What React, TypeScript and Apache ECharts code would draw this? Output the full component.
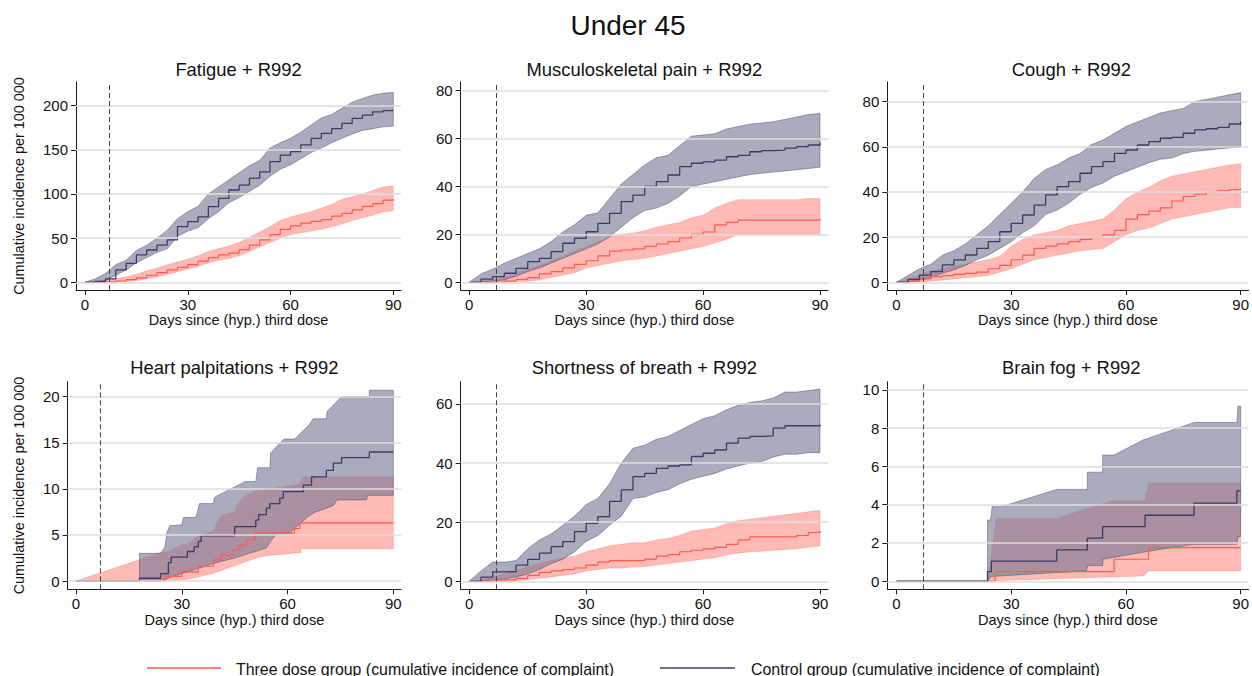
import React, { useEffect, useRef } from "react";
import * as echarts from "echarts";

const FONT = '"Liberation Sans", Arial, Helvetica, sans-serif';

// ---------- data ----------
const DAYS = [0, 3, 6, 9, 12, 15, 18, 21, 24, 27, 30, 33, 36, 39, 42, 45, 48, 51, 54, 57, 60, 63, 66, 69, 72, 75, 78, 81, 84, 87, 90];
const X_TICKS = [0, 30, 60, 90];

// Fatigue
const fatigueControlLine = [0, 1, 4, 14, 21.5, 31, 36.6, 42, 48, 63, 68.7, 74, 85.7, 95, 104.5, 110, 118, 125, 136.6, 144, 148, 155.5, 163, 168.7, 174, 180, 185.7, 189.4, 193, 194.3, 194.3];
const fatigueControlUpper = [0, 4, 10, 20, 25, 36, 42, 50, 59, 72, 80, 86, 100, 108, 116, 124, 132, 138, 152, 158, 163, 170, 178, 186, 190, 197, 204, 208, 212, 214, 215];
const fatigueControlLower = [0, 0, 2, 8, 14, 22, 28, 34, 38, 52, 58, 62, 72, 80, 90, 96, 103, 110, 120, 128, 133, 140, 147, 152, 158, 163, 168, 172, 174, 176, 177];
const fatigueThreeLine = [0, 0, 0.5, 1.5, 3, 5, 8, 11, 14, 17, 20, 24, 28, 31, 33, 37, 42, 48, 54, 60, 64, 67, 69, 71, 75, 78, 82, 86, 89, 93, 94];
const fatigueThreeUpper = [0, 1, 2, 4, 6, 9, 13, 16, 20, 23, 26, 30, 35, 38, 41, 45, 51, 57, 63, 70, 74, 77, 80, 84, 88, 94, 97, 100, 104, 108, 109];
const fatigueThreeLower = [0, 0, 0, 0.5, 1, 2, 4, 6, 9, 12, 15, 18, 22, 25, 27, 30, 35, 40, 45, 50, 54, 56, 58, 60, 63, 66, 70, 73, 76, 80, 81];

// Musculoskeletal pain
const muscControlLine = [0, 1.3, 2.4, 3.8, 5.8, 8.6, 10, 12.8, 16.3, 18.4, 21.1, 24.6, 28.8, 33.7, 36.4, 40, 42, 44.8, 48.3, 49.7, 50.3, 51, 52.4, 53, 54.5, 55, 55.2, 56, 56.6, 57.3, 58.3];
const muscControlUpper = [0, 3.5, 5.5, 8, 10, 12, 14, 17, 21, 24, 28, 29, 35, 41, 45, 49, 52, 53, 57, 61, 61.5, 62, 64, 65, 66, 66.5, 67, 68, 69, 70, 70.5];
const muscControlLower = [0, 0, 0.5, 1, 2.5, 4.5, 6, 8, 10, 12, 14, 16, 19, 23, 27, 30, 31, 33, 36, 40, 41, 42, 43, 44, 45, 45.5, 46, 46.5, 47, 47.5, 48];
const muscThreeLine = [0, 0, 0, 0.5, 1.2, 2, 3.5, 4.5, 6, 7.5, 9, 11, 13, 13.5, 14, 15, 16, 17, 18.5, 20, 21, 24, 25, 26, 26, 26, 26, 26, 26, 26, 26.5];
const muscThreeUpper = [0, 0.5, 1, 2, 4, 5.5, 7, 9, 11, 13, 15, 17, 19, 20, 20.5, 21.5, 23, 24, 25, 27, 28, 31, 33, 34.5, 34.5, 34.5, 34.5, 34.5, 34.5, 35, 35];
const muscThreeLower = [0, 0, 0, 0, 0.2, 0.5, 1, 2, 3, 4, 6, 7, 8, 9, 9.5, 10, 11, 12, 13, 14, 15, 16.5, 18, 20, 20, 20, 20, 20, 20, 20, 20];

// Cough
const coughControlLine = [0, 1.3, 3.2, 4.7, 7.7, 9.9, 12.1, 15, 18, 22.4, 26.1, 29.8, 34.2, 38.7, 42.4, 44.6, 48.3, 51.2, 53.4, 57.1, 58.6, 60.8, 62.3, 63.8, 64.2, 66, 67.5, 68, 68.6, 70.1, 71.1];
const coughControlUpper = [0, 3, 6, 8, 12, 14, 17, 21, 25, 30, 35, 40, 46, 50, 52, 55, 57, 61, 63, 66, 69, 71, 73, 75, 76, 77, 80, 81, 82, 83, 84];
const coughControlLower = [0, 0, 1, 2, 4, 5.5, 7.5, 10, 12, 15, 18, 22, 25, 30, 32, 35, 39, 42, 44, 47, 49, 51, 53, 54.5, 55, 57, 58, 58.5, 59, 59.5, 60];
const coughThreeLine = [0, 0.5, 1.5, 2.5, 3, 3.5, 4, 4.5, 6, 7.5, 10, 12, 15, 16, 17, 18, 19, 20, 21, 23, 28, 30, 31.5, 33, 36, 38, 39, 40, 40.5, 41, 41.5];
const coughThreeUpper = [0, 1.5, 3, 5, 6, 7, 8, 9, 10, 11.5, 16, 19, 21, 22, 23, 25, 26, 27, 28, 32, 37, 40, 42, 45, 47, 48, 49, 50, 51, 52, 52.5];
const coughThreeLower = [0, 0, 0.2, 0.5, 1, 1.5, 2, 2.5, 3, 4.5, 6, 8, 10, 11, 12, 13, 14, 14.5, 15, 18, 21, 23, 24, 26, 28, 29, 30, 31, 32, 33, 33];

// Shortness of breath
const sobControlLine = [0, 1.4, 3.2, 3.3, 5.5, 7.4, 9.5, 11.7, 13.4, 16.8, 19.6, 21.9, 27, 30.9, 35.4, 36.5, 38.2, 39, 39.4, 42.2, 43.3, 44.4, 46.7, 48.4, 49, 49.2, 51.8, 52.6, 52.6, 52.6, 53];
const sobControlUpper = [0, 3.5, 6.5, 6.5, 7, 11, 14, 16, 19, 22, 26, 28, 33, 40, 45, 46, 48, 49, 51, 53, 55, 56, 58, 59.5, 60.5, 61, 62, 64, 64, 64.5, 65];
const sobControlLower = [0, 0, 0.5, 0.8, 1.5, 2.5, 4, 6, 7.5, 10, 13.5, 15.5, 19, 22, 28, 28.5, 30, 31, 33, 34.5, 35.5, 36.5, 38, 39, 40, 40.5, 42, 43, 43, 43.5, 43.5];
const sobThreeLine = [0, 0, 0.2, 0.5, 1, 2, 3, 3.5, 4, 4.5, 5.5, 6.5, 7, 7, 7, 7.5, 8.5, 9, 10, 10.5, 11, 11.5, 12.5, 14, 15, 15, 15, 15, 15.5, 16.5, 17];
const sobThreeUpper = [0, 0.5, 1.5, 2.5, 3.5, 5, 6, 7, 8, 8.5, 10, 11, 12, 12.5, 13, 13, 14, 14.5, 15.5, 17, 17.5, 18, 19.5, 20.5, 21, 21.5, 22, 22.5, 23, 23.5, 24];
const sobThreeLower = [0, 0, 0, 0, 0.2, 0.5, 1, 1.5, 2, 2.5, 3.5, 4, 4.5, 4.5, 4.8, 5, 5.5, 6, 6.5, 7, 7.5, 8, 9, 9.5, 10, 10.2, 10.5, 10.8, 11, 11.5, 12];

// Heart palpitations: [day, value]
const heartControlLine = [[0, 0], [18, 0.3], [24, 0.8], [26.2, 2.0], [27, 2.6], [31.6, 3.2], [33.5, 3.7], [34.7, 4.3], [35.5, 4.9], [45, 5.9], [51, 6.6], [51.8, 7.2], [54, 7.9], [55, 8.4], [57.8, 9.0], [58.8, 9.7], [64.5, 10.4], [66.8, 11.3], [71, 12.0], [73, 12.8], [75.3, 13.4], [83.2, 14.0], [90, 14.0]];
const heartControlUpper = [[18, 0], [18, 3.0], [24, 3.0], [25.2, 3.7], [25.8, 5.3], [26.6, 6.0], [30, 6.1], [30.5, 6.9], [34, 6.9], [34.5, 7.6], [35, 8.4], [39, 8.4], [39.3, 9.1], [48, 10.8], [51, 10.8], [51.5, 12.3], [55, 12.3], [55.2, 13.9], [57.4, 14.8], [59, 15.4], [62, 15.4], [66, 16.9], [67.3, 17.6], [71, 17.6], [71.2, 18.4], [73.3, 19.2], [75.3, 20.0], [83.2, 20.0], [83.2, 20.7], [90, 20.7]];
const heartControlLower = [[18, 0], [25, 0], [26, 0.3], [30, 0.8], [35, 1.4], [39, 1.9], [45, 2.5], [49, 3.0], [51, 3.2], [54, 3.6], [55, 4.2], [57, 5.2], [60.7, 5.2], [62, 5.7], [65.8, 7.0], [68, 7.5], [71, 7.9], [73, 8.2], [74, 8.8], [82.4, 8.8], [82.7, 9.3], [90, 9.3]];
const heartThreeLine = [[0, 0], [24.5, 0.2], [25.5, 0.5], [30, 1.0], [34.7, 1.6], [39, 2.3], [41, 2.8], [44.6, 3.4], [46.5, 3.9], [48.4, 4.5], [50.8, 5.2], [62, 5.7], [63.5, 6.3], [90, 6.3]];
const heartThreeUpper = [[0, 0], [18, 2.3], [24, 3.1], [26.5, 3.2], [30, 3.9], [32, 4.1], [34.2, 4.8], [39, 5.4], [40, 6.3], [41.3, 7.2], [45, 7.4], [45.5, 8.1], [47.5, 9.1], [50.3, 9.7], [63.5, 10.5], [64.5, 11.3], [90, 11.3]];
const heartThreeLower = [[0, 0], [25.7, 0], [32, 0.2], [39, 0.85], [41.5, 1.2], [47.5, 2.0], [51, 2.5], [53, 2.7], [63.8, 3.1], [63.8, 3.5], [90, 3.5]];

// Brain fog: [day, value]
const fogControlLine = [[0, 0], [23.8, 0.5], [24.8, 1.05], [41.9, 1.64], [49.9, 2.25], [53.9, 2.86], [65, 3.45], [77.8, 4.08], [89, 4.72], [90, 4.72]];
const fogControlUpper = [[23.8, 0], [23.8, 3.2], [24.6, 3.2], [25, 3.9], [27.4, 3.9], [41.9, 4.8], [49.9, 4.8], [49.9, 5.7], [53.9, 5.7], [53.9, 6.6], [56.9, 6.6], [64.6, 7.4], [65.5, 7.45], [77.8, 8.3], [89, 8.3], [89.3, 9.15], [90, 9.15]];
const fogControlLower = [[23.8, 0], [24.8, 0.25], [49.7, 0.55], [50, 0.82], [53.9, 0.82], [54, 1.15], [65.4, 1.55], [77.8, 1.93], [89, 1.93], [89.3, 2.33], [90, 2.33]];
const fogThreeLine = [[0, 0], [25.8, 0.5], [56.9, 1.15], [65.9, 1.76], [90, 1.76]];
const fogThreeUpper = [[23.8, 0], [26.1, 3.28], [41.9, 3.28], [56.3, 4.2], [65, 4.2], [65.9, 5.12], [90, 5.12]];
const fogThreeLower = [[23.8, 0], [26, 0.03], [64.6, 0.28], [65.9, 0.54], [90, 0.54]];

const TITLES = ["Fatigue + R992", "Musculoskeletal pain + R992", "Cough + R992", "Heart palpitations + R992", "Shortness of breath + R992", "Brain fog + R992"];
const Y_TICKS = [[0, 50, 100, 150, 200], [0, 20, 40, 60, 80], [0, 20, 40, 60, 80], [0, 5, 10, 15, 20], [0, 20, 40, 60], [0, 2, 4, 6, 8, 10]];
const X_NAME = "Days since (hyp.) third dose";
const Y_NAME = "Cumulative incidence per 100 000";
const THREE_NAME = "Three dose group (cumulative incidence of complaint)";
const CONTROL_NAME = "Control group (cumulative incidence of complaint)";
const MAIN_TITLE = "Under 45";

// ---------- helpers ----------
const pairs = (xs: number[], ys: number[]) => xs.map((x, i) => [x, ys[i]]);
const dense = (cl: number[], cu: number[], clo: number[], tl: number[], tu: number[], tlo: number[]) => ({
  control: { line: pairs(DAYS, cl), upper: pairs(DAYS, cu), lower: pairs(DAYS, clo) },
  three: { line: pairs(DAYS, tl), upper: pairs(DAYS, tu), lower: pairs(DAYS, tlo) },
});

const PANEL_DATA = [
  dense(fatigueControlLine, fatigueControlUpper, fatigueControlLower, fatigueThreeLine, fatigueThreeUpper, fatigueThreeLower),
  dense(muscControlLine, muscControlUpper, muscControlLower, muscThreeLine, muscThreeUpper, muscThreeLower),
  dense(coughControlLine, coughControlUpper, coughControlLower, coughThreeLine, coughThreeUpper, coughThreeLower),
  {
    control: { line: heartControlLine, upper: heartControlUpper, lower: heartControlLower },
    three: { line: heartThreeLine, upper: heartThreeUpper, lower: heartThreeLower },
  },
  dense(sobControlLine, sobControlUpper, sobControlLower, sobThreeLine, sobThreeUpper, sobThreeLower),
  {
    control: { line: fogControlLine, upper: fogControlUpper, lower: fogControlLower },
    three: { line: fogThreeLine, upper: fogThreeUpper, lower: fogThreeLower },
  },
];

// ---------- layout ----------
const GRIDS = [
  { left: 76, top: 82, width: 325, height: 208 },
  { left: 460.7, top: 82, width: 367.3, height: 208 },
  { left: 887.3, top: 82, width: 368, height: 208 },
  { left: 67.7, top: 381.7, width: 333.3, height: 207.6 },
  { left: 460.7, top: 381.7, width: 367.3, height: 207.6 },
  { left: 887.3, top: 381.7, width: 368, height: 207.6 },
];
const X_RANGE = [[-2.63, 92.25], [-2.2, 92.05], [-2.41, 92.05], [-2.35, 92.18], [-2.2, 92.05], [-2.41, 92.05]];
const Y_RANGE = [[-8.7, 226.8], [-3.2, 83.6], [-3.4, 88.7], [-0.9, 21.63], [-2.7, 67.5], [-0.42, 10.43]];

const RED_LINE = "#ff5a4f";
const RED_FILL = "rgba(255,90,80,0.42)";
const RED_EDGE = "rgba(255,90,80,0.35)";
const NAVY_LINE = "#3a3c64";
const NAVY_FILL = "rgba(113,117,147,0.6)";
const NAVY_EDGE = "rgba(45,47,90,0.5)";
const GRID_LINE = "#dcdcdc";
const AXIS = "#1a1a1a";
const TEXT = "#111";

function bandSeries(i: number, upper: number[][], lower: number[][], fill: string, edge: string, name: string) {
  return {
    type: "custom",
    name,
    xAxisIndex: i,
    yAxisIndex: i,
    silent: true,
    data: [[0, 0]],
    renderItem: (_params: any, api: any) => {
      const pts = upper.map((p) => api.coord(p)).concat(lower.slice().reverse().map((p) => api.coord(p)));
      return { type: "polygon", shape: { points: pts }, style: { fill, stroke: edge, lineWidth: 0.8 } };
    },
  };
}

function buildOption() {
  const grid: any[] = [];
  const xAxis: any[] = [];
  const yAxis: any[] = [];
  const series: any[] = [];
  const graphic: any[] = [];

  graphic.push({
    type: "text",
    x: 628,
    y: 25,
    style: { text: MAIN_TITLE, fontSize: 28, fontFamily: FONT, fill: TEXT, align: "center", verticalAlign: "middle" },
  });

  for (let i = 0; i < 6; i++) {
    const g = GRIDS[i];
    grid.push({ ...g, containLabel: false });
    const leftCol = i % 3 === 0;
    xAxis.push({
      gridIndex: i,
      type: "value",
      min: X_RANGE[i][0],
      max: X_RANGE[i][1],
      axisLine: { show: true, onZero: false, lineStyle: { color: AXIS, width: 1 } },
      axisTick: { show: true, length: 5, customValues: X_TICKS, lineStyle: { color: AXIS, width: 1 } },
      axisLabel: { customValues: X_TICKS, fontSize: 15, color: TEXT, fontFamily: FONT, margin: 7 },
      splitLine: { show: false },
      name: X_NAME,
      nameLocation: "middle",
      nameGap: 22,
      nameTextStyle: { fontSize: 14.5, color: TEXT, fontFamily: FONT },
    });
    yAxis.push({
      gridIndex: i,
      type: "value",
      min: Y_RANGE[i][0],
      max: Y_RANGE[i][1],
      axisLine: { show: true, onZero: false, lineStyle: { color: AXIS, width: 1 } },
      axisTick: { show: true, length: 5, customValues: Y_TICKS[i], lineStyle: { color: AXIS, width: 1 } },
      axisLabel: { customValues: Y_TICKS[i], fontSize: 15, color: TEXT, fontFamily: FONT, margin: 8 },
      splitLine: { show: false },
      name: leftCol ? Y_NAME : "",
      nameLocation: "middle",
      nameGap: i === 0 ? 50.5 : 42.2,
      nameTextStyle: { fontSize: 14.4, color: TEXT, fontFamily: FONT },
    });

    graphic.push({
      type: "text",
      x: g.left + g.width / 2,
      y: i < 3 ? 69 : 367,
      style: { text: TITLES[i], fontSize: 18.4, fontFamily: FONT, fill: TEXT, align: "center", verticalAlign: "middle" },
    });

    const d = PANEL_DATA[i];
    // gridlines
    series.push({
      type: "line",
      xAxisIndex: i,
      yAxisIndex: i,
      data: [],
      silent: true,
      markLine: {
        silent: true,
        symbol: ["none", "none"],
        label: { show: false },
        lineStyle: { color: GRID_LINE, width: 1.6, type: "solid" },
        data: Y_TICKS[i].map((v) => ({ yAxis: v })),
      },
    });
    series.push(bandSeries(i, d.three.upper, d.three.lower, RED_FILL, RED_EDGE, THREE_NAME + " band"));
    series.push({
      type: "line",
      name: THREE_NAME,
      xAxisIndex: i,
      yAxisIndex: i,
      data: d.three.line,
      step: "end",
      symbol: "none",
      silent: true,
      lineStyle: { color: RED_LINE, width: 1.2 },
    });
    series.push(bandSeries(i, d.control.upper, d.control.lower, NAVY_FILL, NAVY_EDGE, CONTROL_NAME + " band"));
    series.push({
      type: "line",
      name: CONTROL_NAME,
      xAxisIndex: i,
      yAxisIndex: i,
      data: d.control.line,
      step: "end",
      symbol: "none",
      silent: true,
      lineStyle: { color: NAVY_LINE, width: 1.3 },
      markLine: {
        silent: true,
        symbol: ["none", "none"],
        label: { show: false },
        lineStyle: { color: "#444", width: 1, type: [5, 3] },
        data: [{ xAxis: 7 }],
      },
    });
  }

  // legend
  graphic.push({ type: "line", shape: { x1: 147, y1: 668, x2: 221, y2: 668 }, style: { stroke: RED_LINE, lineWidth: 1.5 } });
  graphic.push({
    type: "text",
    x: 236,
    y: 669,
    style: { text: THREE_NAME, fontSize: 15.9, fontFamily: FONT, fill: TEXT, align: "left", verticalAlign: "middle" },
  });
  graphic.push({ type: "line", shape: { x1: 660, y1: 668, x2: 735, y2: 668 }, style: { stroke: NAVY_LINE, lineWidth: 1.5 } });
  graphic.push({
    type: "text",
    x: 751,
    y: 669,
    style: { text: CONTROL_NAME, fontSize: 15.9, fontFamily: FONT, fill: TEXT, align: "left", verticalAlign: "middle" },
  });

  return { animation: false, backgroundColor: "#fff", grid, xAxis, yAxis, series, graphic };
}

export default function App() {
  const ref = useRef<HTMLDivElement>(null);
  useEffect(() => {
    if (!ref.current) return;
    const chart = echarts.init(ref.current, null, { renderer: "svg" });
    chart.setOption(buildOption() as any);
    return () => chart.dispose();
  }, []);
  return (
    <div
      ref={ref}
      style={{ position: "fixed", left: 0, top: 0, width: 1252, height: 676, background: "#fff", overflow: "hidden" }}
    />
  );
}
